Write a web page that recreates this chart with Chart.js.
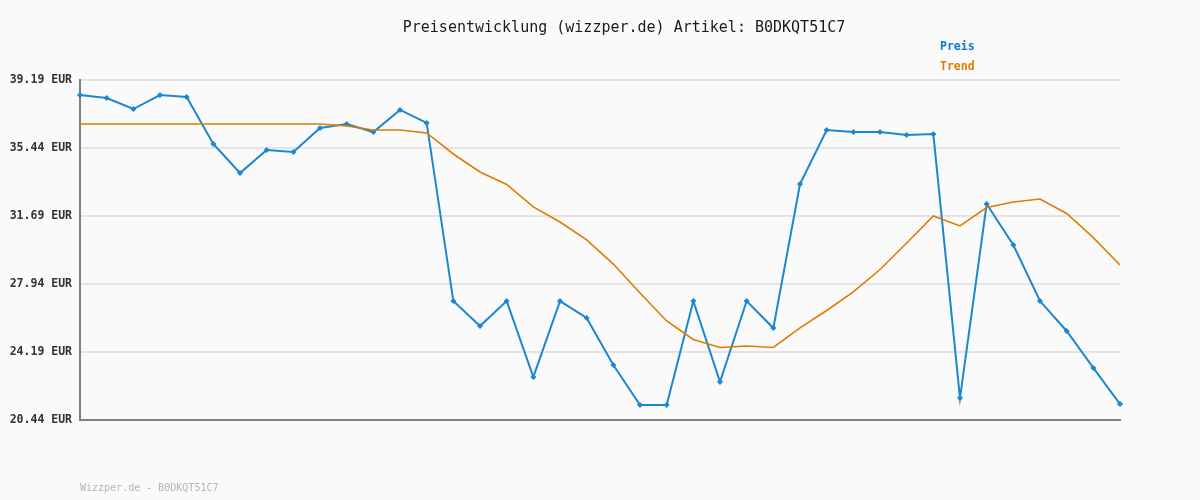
<!DOCTYPE html>
<html lang="de">
<head>
<meta charset="UTF-8">
<title>Preisentwicklung B0DKQT51C7</title>
<script src="https://cdn.jsdelivr.net/npm/chart.js"></script>
<style>
  body { margin: 0; background: #fafafa; }
  #wrap { width: 1200px; height: 500px; }
</style>
</head>
<body>
<div id="wrap"><canvas id="preisChart"></canvas></div>
<script>
// Daten
const labels = Array.from({ length: 40 }, (_, i) => "P" + (i + 1));
const preis = [
  38.36, 38.20, 37.59, 38.36, 38.25, 35.66, 34.06, 35.33, 35.22, 36.54,
  36.76, 36.32, 37.54, 36.82, 27.00, 25.62, 27.00, 22.81, 27.00, 26.07,
  23.47, 21.27, 21.27, 27.00, 22.54, 27.00, 25.51, 33.45, 36.43, 36.32,
  36.32, 36.16, 36.21, 21.65, 32.35, 30.09, 27.00, 25.35, 23.31, 21.32
];
const trend = [
  36.76, 36.76, 36.76, 36.76, 36.76, 36.76, 36.76, 36.76, 36.76, 36.76,
  36.65, 36.43, 36.43, 36.27, 35.11, 34.12, 33.43, 32.19, 31.36, 30.37,
  29.04, 27.44, 25.90, 24.88, 24.44, 24.52, 24.44, 25.52, 26.48, 27.50,
  28.74, 30.20, 31.69, 31.14, 32.16, 32.46, 32.63, 31.83, 30.50, 28.99
];
const yTicks = [20.44, 24.19, 27.94, 31.69, 35.44, 39.19];

const blau = "#1b87d1";
const orange = "#e07b00";

// Titel, Legende und Fusszeile
const textPlugin = {
  id: "texte",
  afterDraw(chart) {
    const c = chart.ctx;
    c.save();
    c.textBaseline = "middle";
    c.font = "15px 'DejaVu Sans Mono'";
    c.fillStyle = "#1a1a1a";
    c.textAlign = "center";
    c.fillText("Preisentwicklung (wizzper.de) Artikel: B0DKQT51C7", 624, 28);
    c.textAlign = "left";
    c.font = "bold 11.5px 'DejaVu Sans Mono'";
    c.fillStyle = "#0a7acc";
    c.fillText("Preis", 940, 47);
    c.fillStyle = orange;
    c.fillText("Trend", 940, 67);
    c.font = "10px 'DejaVu Sans Mono'";
    c.fillStyle = "#b4b4b4";
    c.fillText("Wizzper.de - B0DKQT51C7", 80, 488);
    c.restore();
  }
};

const ctx = document.getElementById("preisChart").getContext("2d");
new Chart(ctx, {
  type: "line",
  data: {
    labels: labels,
    datasets: [
      {
        label: "Trend",
        data: trend,
        borderColor: orange,
        borderWidth: 1.6,
        pointRadius: 0,
        tension: 0
      },
      {
        label: "Preis",
        data: preis,
        borderColor: blau,
        backgroundColor: blau,
        borderWidth: 2,
        pointStyle: "rectRot",
        pointRadius: 2.5,
        pointBorderWidth: 1,
        tension: 0
      }
    ]
  },
  options: {
    responsive: true,
    maintainAspectRatio: false,
    animation: false,
    layout: { padding: { top: 80, right: 80, left: 0, bottom: 0 } },
    plugins: {
      legend: { display: false },
      title: { display: false },
      tooltip: { enabled: false }
    },
    scales: {
      x: {
        grid: { display: false },
        ticks: { display: false },
        border: { color: "#808080", width: 2 },
        afterFit(scale) { scale.height = 80; }
      },
      y: {
        min: 20.44,
        max: 39.19,
        afterBuildTicks(scale) {
          scale.ticks = yTicks.map(v => ({ value: v }));
        },
        afterFit(scale) { scale.width = 80; },
        grid: { color: "#e4e4e4", lineWidth: 2, drawTicks: false },
        border: { color: "#808080", width: 2 },
        ticks: {
          padding: 8,
          color: "#333",
          font: { family: "'DejaVu Sans Mono'", size: 11.5, weight: "bold" },
          callback: v => v.toFixed(2) + " EUR"
        }
      }
    }
  },
  plugins: [textPlugin]
});
</script>
</body>
</html>
